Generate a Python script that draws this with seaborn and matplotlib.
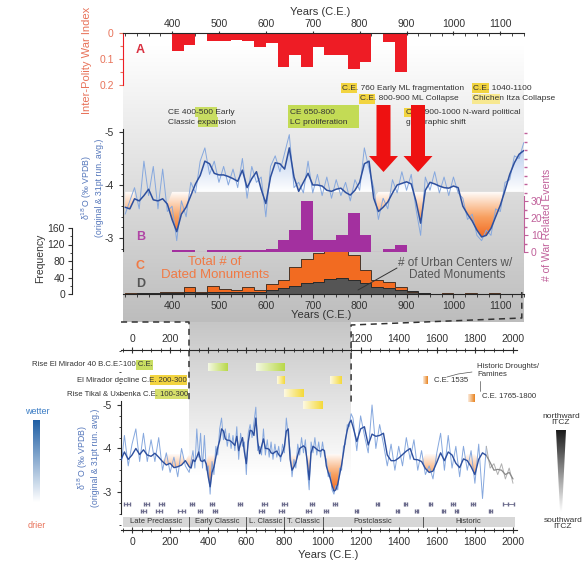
import numpy as np
import pandas as pd
import matplotlib
matplotlib.use("Agg")
import matplotlib.pyplot as plt
from matplotlib.colors import LinearSegmentedColormap
from matplotlib.patches import Polygon, Rectangle
from matplotlib.path import Path
from matplotlib.ticker import MultipleLocator, FuncFormatter
import seaborn as sns

sns.set_theme(style="ticks")
plt.rcParams["font.family"] = ["Liberation Sans", "DejaVu Sans"]
plt.rcParams["axes.unicode_minus"] = False
plt.rcParams["axes.linewidth"] = 0.8

# ---------------- data ----------------
# 25-year bins, CE 400-900
conflict_bin_start = np.arange(400, 900, 25)
war_index = [0.07, 0.045, 0.0, 0.03, 0.03, 0.025, 0.03, 0.055, 0.04, 0.13,
             0.085, 0.13, 0.055, 0.085, 0.085, 0.14, 0.11, 0.0, 0.035, 0.15]
war_events = [1, 1, 0, 1, 1, 1, 1, 1, 2, 7, 13, 30, 7, 7, 10, 23, 10, 0, 2, 4]

# 25-year bins, CE 300-1150
monument_bin_start = np.arange(300, 1150, 25)
dated_monuments = [2, 2, 3, 5, 5, 17, 5, 19, 12, 10, 17, 10, 24, 34, 66, 86, 100,
                   119, 136, 95, 58, 34, 29, 17, 5, 2, 1, 2, 1, 2, 1, 2, 1, 1]
urban_centers = [1, 2, 2, 2, 3, 5, 2, 5, 4, 5, 6, 5, 10, 14, 20, 26, 29, 37, 39,
                 34, 27, 17, 15, 10, 7, 2, 1, 1, 1, 1, 1, 1, 1, 1]

# Speleothem d18O record (per mil VPDB): 31-pt running average and original series
early_years = np.arange(-60, 300, 20)
early_avg = [-3.72, -3.92, -3.75, -3.85, -4.00, -3.86, -3.97, -3.85, -3.82, -3.89,
             -3.80, -3.70, -3.62, -3.66, -3.56, -3.58, -3.62, -3.72]
early_raw = [-3.50, -4.30, -3.60, -4.10, -4.45, -3.70, -4.35, -3.70, -4.20, -3.70,
             -4.25, -3.50, -3.90, -3.45, -3.80, -3.35, -4.00, -3.60]

mid_years = np.arange(300, 1160, 10)
mid_avg = [-3.58, -3.55, -3.74, -3.70, -3.80, -3.92, -3.72, -3.70, -3.74, -3.64,
           -3.35, -3.12, -3.45, -3.58, -3.80, -4.02, -4.18, -4.45, -4.40, -4.22,
           -4.19, -4.19, -4.16, -4.12, -4.07, -4.28, -3.95, -4.12, -4.25, -3.92,
           -3.65, -4.15, -4.42, -4.40, -4.30, -4.70, -4.15, -3.88, -4.05, -4.22,
           -4.00, -4.00, -3.98, -3.90, -3.88, -3.92, -3.94, -3.86, -3.81, -3.90,
           -4.05, -4.40, -4.45, -3.75, -3.50, -3.58, -3.68, -3.85, -4.00, -4.03,
           -4.06, -4.02, -3.70, -3.28, -3.90, -4.05, -4.02, -3.98, -3.95, -3.94,
           -3.98, -3.95, -3.60, -3.45, -3.32, -3.15, -3.02, -3.05, -3.18, -3.40,
           -3.62, -3.90, -4.20, -4.42, -4.58, -4.65]
mid_raw = [-3.45, -3.70, -3.95, -3.55, -4.45, -3.80, -4.35, -3.55, -4.30, -3.50,
           -3.60, -2.95, -3.70, -3.40, -4.05, -3.85, -4.45, -4.70, -4.20, -4.45,
           -4.05, -4.35, -4.00, -4.30, -3.95, -4.50, -3.75, -4.35, -4.05, -4.15,
           -3.40, -4.35, -4.55, -4.25, -4.60, -4.95, -3.95, -4.05, -3.85, -4.45,
           -3.85, -4.20, -3.80, -4.15, -3.75, -4.10, -3.80, -4.05, -3.70, -4.10,
           -3.90, -4.70, -4.30, -3.95, -3.35, -3.75, -3.55, -4.10, -3.85, -4.25,
           -3.90, -4.20, -3.55, -3.05, -4.15, -3.90, -4.25, -3.85, -4.15, -3.80,
           -4.15, -3.85, -3.75, -3.35, -3.45, -3.05, -2.95, -3.15, -3.05, -3.55,
           -3.50, -4.05, -4.10, -4.55, -4.50, -4.80]

late_years = np.arange(1160, 2020, 20)
late_avg = [-4.50, -4.16, -4.45, -4.50, -4.08, -4.33, -4.28, -4.30, -4.35, -3.85,
            -3.72, -3.72, -3.78, -3.86, -3.94, -4.00, -3.75, -3.74, -3.70, -3.54,
            -3.45, -3.48, -3.68, -3.90, -3.72, -3.92, -3.85, -3.66, -3.56, -3.76,
            -3.72, -3.58, -3.40, -3.75, -3.90, -3.84, -3.68, -3.50, -3.52, -3.50,
            -3.40, -3.45, -3.30]
late_raw = [-4.70, -3.95, -4.75, -4.30, -3.90, -5.00, -4.00, -4.55, -4.10, -3.60,
            -4.10, -3.50, -4.05, -3.60, -4.25, -3.75, -4.20, -3.50, -3.95, -3.40,
            -3.60, -3.30, -3.90, -4.35, -3.50, -4.30, -3.55, -4.05, -3.35, -4.05,
            -3.50, -3.95, -3.20, -4.10, -2.85, -4.05, -3.55, -3.65, -3.40, -3.65,
            -3.30, -3.55, -3.20]

drought_threshold = -3.87
drought_windows = [(180, 270), (290, 320), (395, 440), (835, 880), (915, 940),
                   (1015, 1110), (1525, 1600), (1760, 1810)]
instrumental_start = 1860

# U-Th ages with 2-sigma errors
uth_ages = [-25, 60, 75, 140, 155, 260, 315, 355, 420, 435, 565, 680, 695, 785, 800,
            925, 945, 1020, 1065, 1180, 1290, 1395, 1435, 1495, 1565, 1635, 1685,
            1705, 1790, 1880, 1975]
uth_errors = [15, 12, 12, 15, 15, 20, 10, 10, 12, 12, 10, 12, 12, 12, 12, 12, 12,
              10, 10, 8, 8, 8, 8, 8, 8, 8, 8, 8, 8, 8, 30]

period_names = ["Late Preclassic", "Early Classic", "L. Classic", "T. Classic",
                "Postclassic", "Historic"]
period_bounds = [-50, 300, 600, 800, 1000, 1525, 2010]

# Events on the lower timeline: (start, end, row, colour)
timeline_events = [(400, 500, 0, "#b9d84a"), (650, 800, 0, "#b9d84a"),
                   (760, 800, 1, "#f4d93a"), (1040, 1100, 1, "#f4d93a"),
                   (800, 900, 2, "#f4d93a"), (900, 1000, 3, "#f4d93a"),
                   (1530, 1555, 1, "#e8821e"), (1765, 1800, 2.4, "#e8821e")]
timeline_rows = [-5.87, -5.575, -5.28, -4.99]

years = np.concatenate([early_years, mid_years, late_years]).astype(float)
d18o_avg = np.array(early_avg + mid_avg + late_avg)
d18o_raw = np.array(early_raw + mid_raw + late_raw)

conflict = pd.DataFrame({"mid": conflict_bin_start + 12.5, "index": war_index,
                         "events": war_events})
monuments = pd.DataFrame({"mid": monument_bin_start + 12.5, "total": dated_monuments,
                          "urban": urban_centers})

# ---------------- colours ----------------
RED = "#ee1c25"
PURPLE = "#a3309f"
ORANGE = "#f26b21"
DARK = "#555555"
BLUE_DARK = "#2d4f9e"
BLUE_LIGHT = "#86a8de"
LABEL_BLUE = "#5577bb"
SALMON = "#e8735a"
MAUVE = "#c0609a"

# ---------------- figure & layout (pixel placement) ----------------
FW, FH = 588, 564
fig = plt.figure(figsize=(FW / 100, FH / 100), dpi=100)
fig.patch.set_facecolor("white")


def px_axes(x0, y0, x1, y1, z):
    ax = fig.add_axes([x0 / FW, 1 - y1 / FH, (x1 - x0) / FW, (y1 - y0) / FH], zorder=z)
    ax.set_facecolor("none")
    return ax


def canvas(z):
    ax = fig.add_axes([0, 0, 1, 1], zorder=z)
    ax.set_facecolor("none")
    ax.axis("off")
    return ax


UP_XLIM = (295, 1150)
UP_X0, UP_X1 = 122.8, 523.8
LO_XLIM = (-60, 2020)
LO_X0, LO_X1 = 120.6, 516.8


def lo_px(yr):
    return LO_X0 + (yr - LO_XLIM[0]) / (LO_XLIM[1] - LO_XLIM[0]) * (LO_X1 - LO_X0)


bg = canvas(-5)
ax_a = px_axes(UP_X0, 33, UP_X1, 85, 2)
ax_f = px_axes(UP_X0, 228, UP_X1, 294, 1)
ax_d = px_axes(UP_X0, 128, UP_X1, 252, 3)
ax_b = ax_d.twinx()
ax_b.set_zorder(2.5)
ax_b.set_facecolor("none")
ax_lo = px_axes(LO_X0, 350, LO_X1, 530, 3)
fg = canvas(30)


def vgradient(ax, x0, x1, y0, y1, c_top, c_bot, z=0, clip=None):
    cm = LinearSegmentedColormap.from_list("v", [c_top, c_bot])
    im = ax.imshow(np.linspace(0, 1, 256).reshape(-1, 1), extent=(x0, x1, y1, y0),
                   origin="upper", cmap=cm, aspect="auto", zorder=z,
                   interpolation="bilinear")
    if clip is not None:
        ax.add_patch(clip)
        clip.set_visible(False)
        im.set_clip_path(clip)
    return im


# background shading of the zoomed interval
vgradient(bg, UP_X0, UP_X1, 45, 322, "#ffffff", "#bdbdbd")
vgradient(bg, lo_px(300), lo_px(1150), 322, 475, "#c6c6c6", "#ffffff")


def gradient_fill(ax, x, y, thr, mask, colors, far, z):
    coll = ax.fill_between(x, y, thr, where=mask, interpolate=True,
                           facecolor="none", edgecolor="none", linewidth=0)
    paths = [p for p in coll.get_paths() if len(p.vertices)]
    if not paths:
        return
    clip = Path.make_compound_path(*paths)
    lo, hi = min(thr, far), max(thr, far)
    cm = LinearSegmentedColormap.from_list("g", colors)
    grad = np.linspace(lo, hi, 256).reshape(-1, 1)
    im = ax.imshow(grad, extent=(x.min(), x.max(), lo, hi), origin="lower",
                   cmap=cm, vmin=lo, vmax=hi, aspect="auto",
                   interpolation="bilinear", zorder=z)
    im.set_clip_path(clip, transform=ax.transData)


def in_windows(x):
    m = np.zeros_like(x, dtype=bool)
    for a, b in drought_windows:
        m |= (x >= a) & (x <= b)
    return m


def binned_bars(ax, df, col, color, edge=None):
    sns.barplot(data=df, x="mid", y=col, native_scale=True, width=1.0, orient="x",
                color=color, saturation=1, errorbar=None, linewidth=0, ax=ax,
                zorder=2)
    if edge is not None:
        edges = np.append(df["mid"].to_numpy() - 12.5, df["mid"].iloc[-1] + 12.5)
        ax.stairs(df[col].to_numpy(), edges, color=edge, linewidth=0.7, zorder=3)


# ---------------- panel A: inter-polity war index ----------------
binned_bars(ax_a, conflict, "index", RED)
ax_a.set_xlim(*UP_XLIM)
ax_a.set_ylim(0.2, 0)
ax_a.xaxis.tick_top()
ax_a.set_xticks(range(400, 1101, 100))
ax_a.set_xticklabels([str(v) for v in range(400, 1101, 100)])
ax_a.xaxis.set_minor_locator(MultipleLocator(25))
ax_a.set_yticks([0, 0.1, 0.2])
ax_a.set_yticklabels(["0", "0.1", "0.2"])
ax_a.yaxis.set_minor_locator(MultipleLocator(0.05))
ax_a.tick_params(axis="x", which="major", labelsize=7.5, length=3, width=0.8, pad=1.5,
                 direction="inout", colors="#333333")
ax_a.tick_params(axis="x", which="minor", length=2, width=0.6, direction="in")
ax_a.tick_params(axis="y", which="both", labelsize=7.5, colors=SALMON, length=3, width=0.8)
ax_a.tick_params(axis="y", which="minor", length=2)
ax_a.spines["left"].set_color(RED)
for s in ("bottom", "right"):
    ax_a.spines[s].set_visible(False)
ax_a.set_xlabel("")
ax_a.set_ylabel("")

# ---------------- d18O (upper, zoomed) ----------------
mid = (years >= 295) & (years <= 1150)
xm, am, rm = years[mid], d18o_avg[mid], d18o_raw[mid]
gradient_fill(ax_d, xm, am, drought_threshold, am < drought_threshold,
              ["#6a93d8", "#c9d8f1", "#ffffff"], -5.2, 1)
gradient_fill(ax_d, xm, am, drought_threshold,
              in_windows(xm) & (am > drought_threshold),
              ["#ffffff", "#f8a060", "#ef5a10"], -2.9, 1)
sns.lineplot(x=xm, y=rm, ax=ax_d, color=BLUE_LIGHT, linewidth=0.7, zorder=2,
             errorbar=None)
sns.lineplot(x=xm, y=am, ax=ax_d, color=BLUE_DARK, linewidth=1.1, zorder=3,
             errorbar=None)
ax_d.set_xlim(*UP_XLIM)
ax_d.set_ylim(-2.736, -5.075)
ax_d.set_yticks([-5, -4, -3])
ax_d.yaxis.set_minor_locator(MultipleLocator(0.2))
ax_d.spines["left"].set_bounds(-5.05, -2.75)
for s in ("top", "bottom", "right"):
    ax_d.spines[s].set_visible(False)
ax_d.tick_params(axis="x", bottom=False, labelbottom=False)
ax_d.tick_params(axis="y", which="major", labelsize=7.5, length=3, width=0.8,
                 colors="#333333")
ax_d.tick_params(axis="y", which="minor", length=1.8, width=0.6)
ax_d.set_xlabel("")
ax_d.set_ylabel("")

# ---------------- panel B: war-related events ----------------
binned_bars(ax_b, conflict, "events", PURPLE)
ax_b.plot([400, 900], [0, 0], color=PURPLE, lw=0.8)
ax_b.set_xlim(*UP_XLIM)
ax_b.set_ylim(0, 73)
ax_b.set_yticks([0, 10, 20, 30])
ax_b.yaxis.set_minor_locator(MultipleLocator(5))
ax_b.yaxis.tick_right()
ax_b.spines["right"].set_bounds(0, 33)
ax_b.spines["right"].set_color(MAUVE)
for s in ("top", "bottom", "left"):
    ax_b.spines[s].set_visible(False)
ax_b.tick_params(axis="y", which="major", labelsize=7.5, colors=MAUVE, length=3,
                 width=0.8, pad=2)
ax_b.tick_params(axis="y", which="minor", length=1.8, colors=MAUVE)
ax_b.tick_params(axis="x", bottom=False, labelbottom=False)
ax_b.set_xlabel("")
ax_b.set_ylabel("")

# ---------------- panels C/D: monument counts ----------------
binned_bars(ax_f, monuments, "total", ORANGE, edge="#4a3426")
binned_bars(ax_f, monuments, "urban", DARK, edge="#2a2a2a")
ax_f.set_xlim(*UP_XLIM)
ax_f.set_ylim(0, 160)
ax_f.set_yticks([0, 40, 80, 120, 160])
ax_f.yaxis.set_minor_locator(MultipleLocator(20))
ax_f.set_xticks(range(400, 1101, 100))
ax_f.set_xticklabels([str(v) for v in range(400, 1101, 100)])
ax_f.xaxis.set_minor_locator(MultipleLocator(25))
ax_f.spines["left"].set_position(("outward", (UP_X0 - 72) * 0.72))
ax_f.spines["left"].set_bounds(0, 160)
for s in ("top", "right"):
    ax_f.spines[s].set_visible(False)
ax_f.tick_params(axis="both", which="major", labelsize=7.5, length=3, width=0.8,
                 colors="#333333", pad=2)
ax_f.tick_params(axis="both", which="minor", length=1.8, width=0.6)
ax_f.set_xlabel("")
ax_f.set_ylabel("")

# ---------------- lower panel: full record ----------------
blue_part = years <= instrumental_start
gray_part = years >= instrumental_start
gradient_fill(ax_lo, years, d18o_avg, drought_threshold,
              in_windows(years) & (d18o_avg > drought_threshold),
              ["#ffffff", "#f8a060", "#ef5a10"], -2.9, 1)
sns.lineplot(x=years[blue_part], y=d18o_raw[blue_part], ax=ax_lo, color=BLUE_LIGHT,
             linewidth=0.7, zorder=2, errorbar=None)
sns.lineplot(x=years[blue_part], y=d18o_avg[blue_part], ax=ax_lo, color=BLUE_DARK,
             linewidth=1.0, zorder=3, errorbar=None)
sns.lineplot(x=years[gray_part], y=d18o_raw[gray_part], ax=ax_lo, color="#b0b0b0",
             linewidth=0.7, zorder=2, errorbar=None)
sns.lineplot(x=years[gray_part], y=d18o_avg[gray_part], ax=ax_lo, color="#8a8a8a",
             linewidth=0.9, zorder=3, errorbar=None)

# U-Th dates
levels = [-2.72 if i % 2 == 0 else -2.57 for i in range(len(uth_ages))]
ax_lo.errorbar(uth_ages, levels, xerr=uth_errors, fmt="|", ms=3, color="#6b6b8c",
               lw=0.6, capsize=1.2, zorder=3)

# archaeological periods
for name, a, b in zip(period_names, period_bounds[:-1], period_bounds[1:]):
    ax_lo.add_patch(Rectangle((a, -2.425), b - a, 0.23, facecolor="#d7d7d7",
                              edgecolor="none", zorder=1))
    ax_lo.text((a + b) / 2, -2.31, name, ha="center", va="center", fontsize=5.5,
               color="#333333", zorder=4)
for b in period_bounds[1:-1]:
    ax_lo.plot([b, b], [-2.425, -2.195], color="#555555", lw=0.7, zorder=4)

# timeline of cultural events
for a, b, row, col in timeline_events:
    r0 = np.interp(row, range(len(timeline_rows)), timeline_rows)
    cm = LinearSegmentedColormap.from_list("h", ["#ffffff", col])
    ax_lo.imshow(np.linspace(0.15, 1, 64).reshape(1, -1), cmap=cm, vmin=0, vmax=1,
                 extent=(a, b, r0 + 0.09, r0 - 0.09), aspect="auto", zorder=4,
                 interpolation="bilinear")

ax_lo.set_xlim(*LO_XLIM)
ax_lo.set_ylim(-2.126, -6.264)
ax_lo.set_yticks([-5, -4, -3])
ax_lo.yaxis.set_minor_locator(MultipleLocator(0.25))
ax_lo.spines["left"].set_bounds(-5.1, -2.5)
ax_lo.set_xticks(range(0, 2001, 200))
ax_lo.xaxis.set_minor_locator(MultipleLocator(50))
for s in ("top", "right"):
    ax_lo.spines[s].set_visible(False)
ax_lo.tick_params(axis="x", which="major", labelsize=7.5, length=4, width=0.8,
                  direction="inout", colors="#333333", pad=3)
ax_lo.tick_params(axis="x", which="minor", length=2.5, width=0.6, direction="inout")
ax_lo.tick_params(axis="y", which="major", labelsize=7.5, length=3, width=0.8,
                  colors="#333333")
ax_lo.tick_params(axis="y", which="minor", length=1.8, width=0.6)
ax_lo.set_xlabel("")
ax_lo.set_ylabel("")

top = ax_lo.secondary_xaxis("top")
top.set_xticks(range(0, 2001, 200))
top.xaxis.set_major_formatter(FuncFormatter(
    lambda v, p: "" if UP_XLIM[0] < v < UP_XLIM[1] else f"{v:.0f}"))
top.xaxis.set_minor_locator(MultipleLocator(50))
top.tick_params(axis="x", which="major", labelsize=7.5, length=4, width=0.8,
                direction="inout", colors="#333333", pad=2)
top.tick_params(axis="x", which="minor", length=2.5, width=0.6, direction="inout")

# ---------------- overlay: labels, arrows, connectors ----------------
def txt(x, y, s, **kw):
    kw.setdefault("fontsize", 6)
    kw.setdefault("va", "center")
    kw.setdefault("ha", "left")
    kw.setdefault("color", "#333333")
    fg.text(x, y, s, **kw)


def hl(x0, y0, x1, y1, color):
    fg.add_patch(Rectangle((x0, y0), x1 - x0, y1 - y0, facecolor=color,
                           edgecolor="none", zorder=1))


# axis titles
txt(320, 12, "Years (C.E.)", fontsize=8, ha="center")
txt(321, 315, "Years (C.E.)", fontsize=8, ha="center")
txt(328, 555, "Years (C.E.)", fontsize=8, ha="center")
txt(87, 60, "Inter-Polity War Index", fontsize=8, ha="center", rotation=90,
    color=SALMON)
txt(92, 188, "δ$^{18}$O (‰ VPDB)\n(original & 31pt run. avg.)", fontsize=6.3,
    ha="center", rotation=90, color=LABEL_BLUE, linespacing=1.1)
txt(88, 458, "δ$^{18}$O (‰ VPDB)\n(original & 31pt run. avg.)", fontsize=6.3,
    ha="center", rotation=90, color=LABEL_BLUE, linespacing=1.1)
txt(40, 258, "Frequency", fontsize=7.5, ha="center", rotation=90)
txt(547, 225, "# of War Related Events", fontsize=7.5, ha="center", rotation=90,
    color=MAUVE)

# panel letters
txt(136, 50, "A", fontsize=9, color="#d93040", fontweight="bold")
txt(136, 237, "B", fontsize=9, color="#b045a5", fontweight="bold")
txt(136, 266, "C", fontsize=9, color="#f07a45", fontweight="bold")
txt(136, 284, "D", fontsize=9, color="#555555", fontweight="bold")
txt(215, 262, "Total # of", fontsize=9.5, ha="center", color="#f07a45")
txt(215, 275, "Dated Monuments", fontsize=9.5, ha="center", color="#f07a45")
txt(455, 263, "# of Urban Centers w/", fontsize=8.5, ha="center", color="#555555")
txt(457, 275, "Dated Monuments", fontsize=8.5, ha="center", color="#555555")
fg.plot([397, 358], [268, 290], color="#333333", lw=0.7)

# event notes, upper panel
hl(195, 107, 217, 117, "#c8dd62")
txt(168, 112, "CE 400-500 Early")
hl(198, 117, 218, 127, "#c8dd62")
txt(168, 122, "Classic expansion")
hl(288, 105, 359, 128, "#c3db55")
txt(290, 112, "CE 650-800")
txt(290, 122, "LC proliferation")
hl(341, 83, 357, 93, "#f2d440")
txt(342, 88, "C.E. 760 Early ML fragmentation")
hl(359, 94, 375, 104, "#f2d440")
txt(360, 99, "C.E. 800-900 ML Collapse")
hl(472, 83, 489, 93, "#f2d440")
txt(473, 88, "C.E. 1040-1100")
hl(472, 94, 500, 104, "#f7e890")
txt(473, 99, "Chichen Itza Collapse")
hl(404, 108, 420, 117, "#f2d440")
txt(406, 113, "C.E. 900-1000 N-ward political")
txt(406, 122, "geographic shift")

# collapse arrows
for cx in (383.5, 418.0):
    fg.add_patch(Polygon([(cx - 7, 105), (cx + 7, 105), (cx + 7, 156), (cx + 14.5, 156),
                          (cx, 172), (cx - 14.5, 156), (cx - 7, 156)],
                         closed=True, facecolor="#ee1111", edgecolor="none", zorder=5))

# zoom connectors
dash = dict(color="#333333", lw=1.1, linestyle=(0, (4, 3)))
fg.plot([UP_X0 - 2, lo_px(300), lo_px(300)], [322, 322, 402], **dash)
fg.plot([UP_X1 - 2, UP_X1 - 2, lo_px(1150), lo_px(1150)], [292, 318, 325, 402], **dash)

# notes, lower panel
hl(136, 360, 153, 370, "#c8dd62")
txt(153, 365, "Rise El Mirador 40 B.C.E.-100 C.E.", ha="right", fontsize=5.6)
hl(150, 375, 187, 385, "#f2d440")
txt(187, 380, "El Mirador decline C.E. 200-300", ha="right", fontsize=5.6)
hl(155, 389, 188, 399, "#d6df6a")
txt(188, 394, "Rise Tikal & Uxbenka C.E. 100-300", ha="right", fontsize=5.6)
txt(477, 367, "Historic Droughts/", fontsize=5.6)
txt(477, 375, "Famines", fontsize=5.6)
txt(434, 381, "C.E. 1535", fontsize=5.6)
txt(482, 397, "C.E. 1765-1800", fontsize=5.6)
fg.plot([447, 458, 472], [377, 374, 372], color="#555555", lw=0.5)
fg.plot([480, 480], [381, 391], color="#555555", lw=0.5)

# wetter / drier scale
txt(37, 412, "wetter", fontsize=6.5, ha="center", color="#3a7cc4")
txt(37, 525, "drier", fontsize=6.5, ha="center", color=SALMON)
vgradient(fg, 33, 40, 420, 502, "#1f5fa5", "#ffffff", z=2)

# ITCZ position scale
txt(561, 416, "northward", fontsize=6, ha="center")
txt(561, 423, "ITCZ", fontsize=6, ha="center")
txt(563, 520, "southward", fontsize=6, ha="center")
txt(563, 527, "ITCZ", fontsize=6, ha="center")
wedge = Polygon([(556, 430), (566, 430), (562, 512), (560, 512)], closed=True,
                transform=fg.transData)
vgradient(fg, 555, 567, 430, 512, "#1a1a1a", "#ffffff", z=2, clip=wedge)

for c in (bg, fg):
    c.set_xlim(0, FW)
    c.set_ylim(FH, 0)

fig.savefig("out.png", dpi=100, facecolor="white")
